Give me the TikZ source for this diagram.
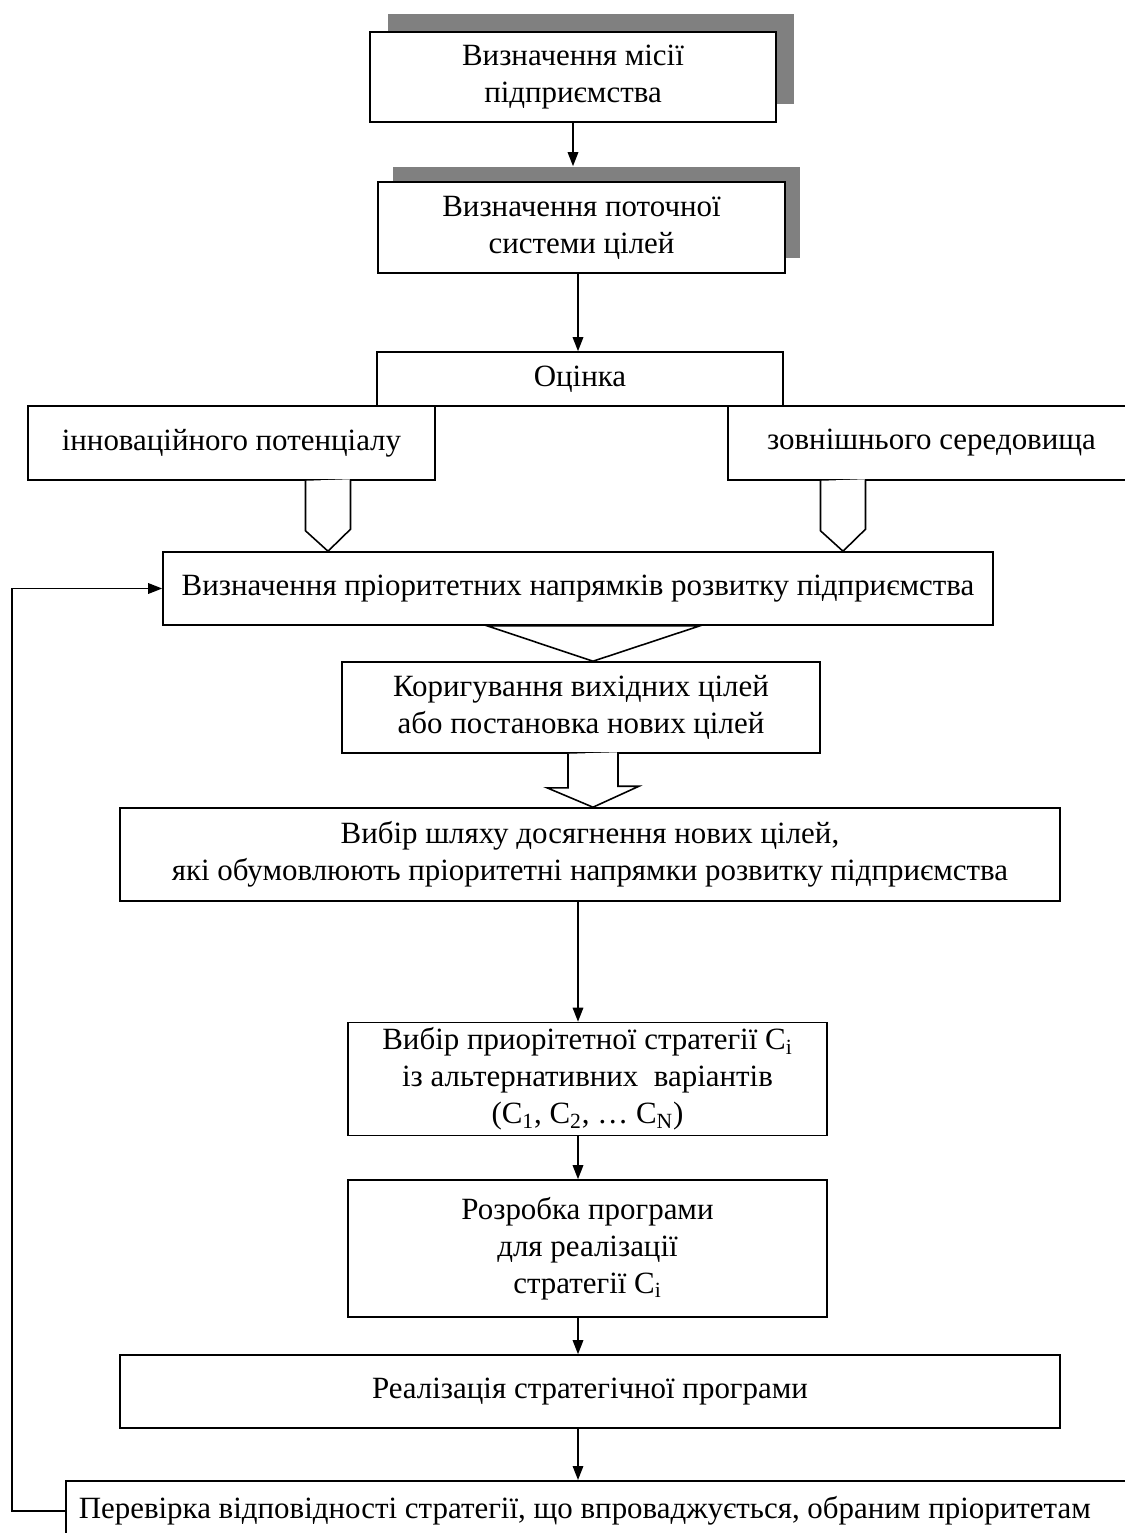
\documentclass[tikz,border=0pt]{standalone}
\usepackage{fontspec}
\setmainfont{Liberation Serif}
\usetikzlibrary{arrows.meta,positioning,calc,shadows}

\begin{document}
\begin{tikzpicture}[
    box/.style={rectangle, draw=black, fill=white, line width=0.9pt,
                align=center, inner sep=0pt,
                font=\fontsize{17.6}{21}\selectfont},
    shadowed/.style={general shadow={fill=gray, shadow xshift=#1,
                shadow yshift=#1}},
    arr/.style={-{Triangle[length=2.8mm, width=2.1mm]}, line width=0.9pt},
    hollow/.style={draw=black, fill=white, line width=0.9pt},
]
\path[use as bounding box, clip] (0,0) rectangle (22.5,-30.66);

% --- Mission and goals ---
\node[box, shadowed=3.6mm, minimum width=8.12cm, minimum height=1.8cm]
  (mission) at (11.46,-1.54) {Визначення місії\\підприємства};
\node[box, shadowed=3mm, minimum width=8.14cm, minimum height=1.82cm]
  (goals) at (11.63,-4.55) {Визначення поточної\\системи цілей};

% --- Assessment ---
\node[box, minimum width=8.12cm, minimum height=1.08cm] (assess) at (11.6,-7.58) {Оцінка};
\node[box, minimum width=8.14cm, minimum height=1.48cm] (innov) at (4.63,-8.86) {інноваційного потенціалу};
\node[box, minimum width=8.14cm, minimum height=1.48cm] (envir) at (18.63,-8.86) {зовнішнього середовища};

% --- Priorities and goals ---
\node[box, minimum width=16.6cm, minimum height=1.46cm] (priority) at (11.56,-11.77)
  {Визначення пріоритетних напрямків розвитку підприємства};
\node[box, minimum width=9.56cm, minimum height=1.82cm] (correct) at (11.62,-14.15)
  {Коригування вихідних цілей\\або постановка нових цілей};
\node[box, minimum width=18.8cm, minimum height=1.86cm] (path) at (11.8,-17.09)
  {Вибір шляху досягнення нових цілей,\\які обумовлюють пріоритетні напрямки розвитку підприємства};

% --- Strategy ---
\node[box, minimum width=9.58cm, minimum height=2.26cm] (choice) at (11.75,-21.58)
  {Вибір приорітетної стратегії C\textsubscript{i}\\із альтернативних\ \ варіантів\\(C\textsubscript{1}, C\textsubscript{2}, \ldots{} C\textsubscript{N})};
\node[box, minimum width=9.58cm, minimum height=2.74cm] (program) at (11.75,-24.97)
  {Розробка програми\\для реалізації\\стратегії C\textsubscript{i}};
\node[box, minimum width=18.8cm, minimum height=1.46cm] (realize) at (11.8,-27.83)
  {Реалізація стратегічної програми};
\node[box, anchor=north west, inner xsep=2.6mm, text width=20.8cm, align=flush left,
  minimum height=1.2cm] (verify) at (1.3,-29.6)
  {Перевірка відповідності стратегії, що впроваджується, обраним пріоритетам};

% --- Arrow columns ---
\coordinate (axis) at (11.56,0);
\coordinate (lcol) at (6.56,0);
\coordinate (rcol) at (16.86,0);
\coordinate (mcol) at (11.86,0);

\draw[arr] (mission.south) -- ($(mission.south |- goals.north)+(0,0.3)$);
\draw[arr] (axis |- goals.south) -- (axis |- assess.north);

% hollow arrows into the priority box
\draw[hollow] ([xshift=-4.5mm]lcol |- innov.south) -- ++(0,-1) -- (lcol |- priority.north)
  -- ++(0.45,0.44) -- ++(0,1);
\draw[hollow] ([xshift=-4.5mm]rcol |- envir.south) -- ++(0,-1) -- (rcol |- priority.north)
  -- ++(0.45,0.44) -- ++(0,1);
\draw[hollow] ($(priority.south)+(-1.82,0)$) -- ($(priority.south)+(2.44,0)$)
  -- (mcol |- correct.north) -- cycle;
\draw[hollow] ([xshift=-5mm]mcol |- correct.south) -- ++(0,-0.68) -- ++(-0.42,0)
  -- (mcol |- path.north) -- ++(0.92,0.42) -- ++(-0.42,0) -- ++(0,0.68);

\draw[arr] (axis |- path.south) -- (axis |- choice.north);
\draw[arr] (axis |- choice.south) -- (axis |- program.north);
\draw[arr] (axis |- program.south) -- (axis |- realize.north);
\draw[arr] (axis |- realize.south) -- (axis |- verify.north);

% feedback loop
\draw[arr] (verify.west) -- ++(-1.06,0) |- (priority.west);

\end{tikzpicture}
\end{document}
